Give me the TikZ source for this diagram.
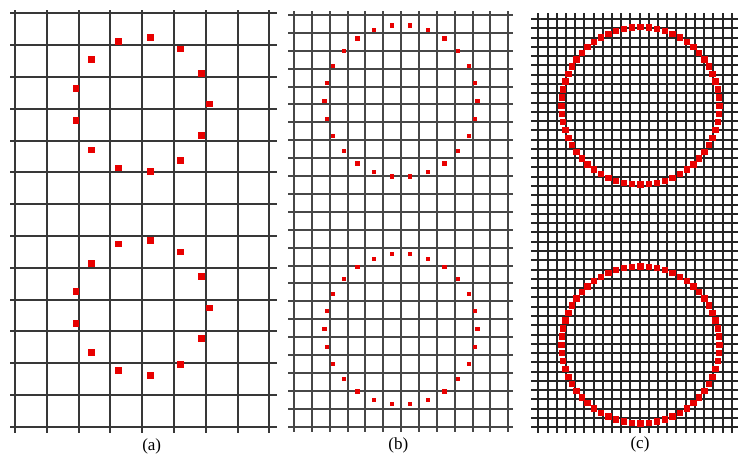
\documentclass[tikz,border=0pt]{standalone}
\usepackage{fontspec}
\setmainfont{Liberation Serif}
\definecolor{dotred}{RGB}{232,0,0}
\tikzset{
  gridA/.style={line width=1.8pt, draw=black!78},
  gridB/.style={line width=1.5pt, draw=black!72},
  gridC/.style={line width=1.8pt, draw=black!85},
  caption/.style={font=\fontsize{17}{19}\selectfont, inner sep=0pt, anchor=center}
}
\begin{document}
\begin{tikzpicture}[x=1pt,y=-1pt]
\useasboundingbox[fill=white] (0,0) rectangle (740,455);
% ---------- panel (a) ----------
\foreach \k in {0,...,8} \draw[gridA] ({round(15+31.8*\k)},10) -- ({round(15+31.8*\k)},433);
\foreach \k in {0,...,13} \draw[gridA] (10,{round(13.3+31.8*\k)}) -- (277,{round(13.3+31.8*\k)});
\foreach \x/\y in {118.3/41.7,150.3/37.7,180.3/49,201.7/73.3,209.7/104,201.7/135.7,180.3/160.3,150.3/171.7,118.3/168,91.7/150,76/120.7,76/88.7,91.7/59.3,
  118.3/244,150.3/240.7,180.3/252,201.7/276.3,209.7/308,201.7/338.7,180.3/364.3,150.3/375.7,118.3/370.7,91.7/352.7,76/323.3,76/291.3,91.7/263.7}
  \fill[dotred] (\x-3.3,\y-3.3) rectangle +(6.6,6.6);
\node[caption] (capa) at (151.7,446) {(a)};
% ---------- panel (b) ----------
\foreach \k in {0,...,12} \draw[gridB] ({round(294+17.86*\k)},11) -- ({round(294+17.86*\k)},432);
\foreach \k in {0,...,23} \draw[gridB] (288,{round(15+17.9*\k)}) -- (513,{round(15+17.9*\k)});
\foreach \k in {0,...,25} {
  \fill[dotred] ({401+76.5*cos(360/26*\k)-2.1},{101+76*sin(360/26*\k)-2.1}) rectangle +(4.2,4.2);
  \fill[dotred] ({401+76.5*cos(360/26*\k)-2.1},{329.3+75.5*sin(360/26*\k)-2.1}) rectangle +(4.2,4.2);
}
\node[caption] (capb) at (398.3,445.7) {(b)};
% ---------- panel (c) ----------
\foreach \k in {0,...,21} \draw[gridC] ({round(538.3+9.21*\k)},13) -- ({round(538.3+9.21*\k)},433);
\foreach \k in {0,...,44} \draw[gridC] (531,{round(19+9.28*\k)}) -- (738,{round(19+9.28*\k)});
\foreach \k in {0,...,59} {
  \fill[dotred] ({640.5+79*cos(6*\k)-3.2},{105.8+78.8*sin(6*\k)-3.2}) rectangle +(6.4,6.4);
  \fill[dotred] ({640.5+79*cos(6*\k)-3.2},{344.8+78.5*sin(6*\k)-3.2}) rectangle +(6.4,6.4);
}
\node[caption] (capc) at (640,444) {(c)};
\end{tikzpicture}
\end{document}
